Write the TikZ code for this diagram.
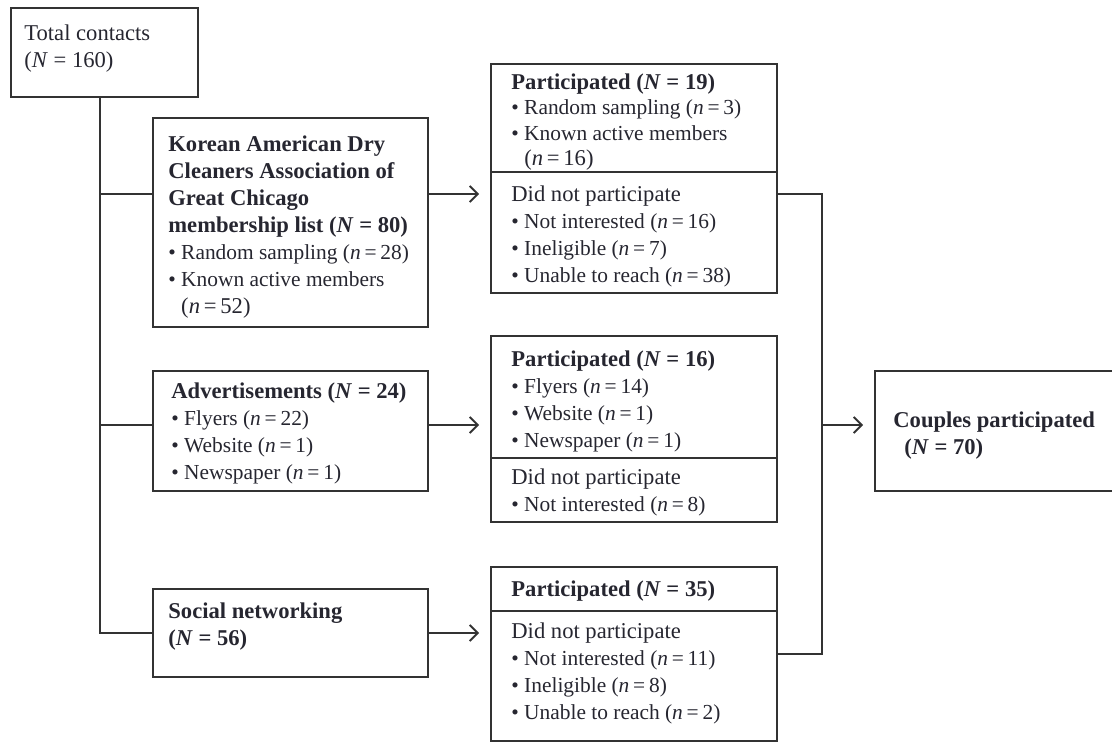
\documentclass[tikz,border=0pt]{standalone}
\usepackage{fontspec}
\setmainfont{Liberation Serif}
\usetikzlibrary{arrows.meta,positioning,calc}
\definecolor{ink}{HTML}{262630}
\definecolor{rule}{HTML}{333333}
\newcommand{\itm}[1]{{\fontsize{10.7}{13.5}\selectfont\textbullet\ #1}}
\newcommand{\cnt}[2]{(\textit{#1}\kern1.9pt=\kern1.9pt#2)}
\newcommand{\Cnt}[2]{(\textit{#1} = #2)}

\begin{document}
\begin{tikzpicture}[x=0.5pt,y=-0.5pt,
  every node/.style={font=\fontsize{11.3}{13.5}\selectfont, text=ink},
  box/.style={draw=rule, line width=0.9pt, rectangle, inner sep=0pt, outer sep=0pt, anchor=north west},
  txt/.style={anchor=north west, align=left, inner sep=0pt},
  link/.style={draw=rule, line width=0.9pt},
  arr/.style={link, -{Straight Barb[length=4pt,width=8pt]}, shorten >=6pt}
]
  \useasboundingbox (0,0) rectangle (1112,743);

  % source boxes
  \node[box, minimum width=93.5pt, minimum height=44.5pt] (total) at (11,8) {};
  \node[box, minimum width=137.5pt, minimum height=104.5pt] (kadca) at (153,118) {};
  \node[box, minimum width=137.5pt, minimum height=60pt] (adv) at (153,371) {};
  \node[box, minimum width=137.5pt, minimum height=44pt] (social) at (153,589) {};

  % outcome boxes, each in two parts
  \node[box, minimum width=143pt, minimum height=54pt] (p1top) at (491,64) {};
  \node[box, minimum width=143pt, minimum height=60.5pt, below=0pt of p1top] (p1bot) {};
  \node[box, minimum width=143pt, minimum height=61pt] (p2top) at (491,336) {};
  \node[box, minimum width=143pt, minimum height=32pt, below=0pt of p2top] (p2bot) {};
  \node[box, minimum width=143pt, minimum height=22pt] (p3top) at (491,567) {};
  \node[box, minimum width=143pt, minimum height=65pt, below=0pt of p3top] (p3bot) {};

  \node[box, minimum width=127.5pt, minimum height=60pt] (couples) at (875,371) {};

  % texts
  \node[txt] (totaltxt) at ($(total.north west)+(13,16)$)
    {Total contacts\\\Cnt{N}{160}};
  \node[txt] (kadcatxt) at ($(kadca.north west)+(15,17)$)
    {\textbf{Korean American Dry}\\
     \textbf{Cleaners Association of}\\
     \textbf{Great Chicago}\\
     \textbf{membership list \Cnt{N}{80}}\\
     \itm{Random sampling \cnt{n}{28}}\\
     \itm{Known active members}\\
     \phantom{\itm{}}\cnt{n}{52}};
  \node[txt] (advtxt) at ($(adv.north west)+(18,11)$)
    {\textbf{Advertisements \Cnt{N}{24}}\\
     \itm{Flyers \cnt{n}{22}}\\
     \itm{Website \cnt{n}{1}}\\
     \itm{Newspaper \cnt{n}{1}}};
  \node[txt] (socialtxt) at ($(social.north west)+(15,13)$)
    {\textbf{Social networking}\\\textbf{\Cnt{N}{56}}};

  \node[txt, font=\fontsize{11.3}{12.8}\selectfont] (p1toptxt) at ($(p1top.north west)+(20,9)$)
    {\textbf{Participated \Cnt{N}{19}}\\
     \itm{Random sampling \cnt{n}{3}}\\
     \itm{Known active members}\\
     \phantom{\itm{}}\cnt{n}{16}};
  \node[txt] (p1bottxt) at ($(p1bot.north west)+(20,13)$)
    {Did not participate\\
     \itm{Not interested \cnt{n}{16}}\\
     \itm{Ineligible \cnt{n}{7}}\\
     \itm{Unable to reach \cnt{n}{38}}};
  \node[txt] (p2toptxt) at ($(p2top.north west)+(20,14)$)
    {\textbf{Participated \Cnt{N}{16}}\\
     \itm{Flyers \cnt{n}{14}}\\
     \itm{Website \cnt{n}{1}}\\
     \itm{Newspaper \cnt{n}{1}}};
  \node[txt] (p2bottxt) at ($(p2bot.north west)+(20,10)$)
    {Did not participate\\
     \itm{Not interested \cnt{n}{8}}};
  \node[txt] (p3toptxt) at ($(p3top.north west)+(20,13)$)
    {\textbf{Participated \Cnt{N}{35}}};
  \node[txt] (p3bottxt) at ($(p3bot.north west)+(20,11)$)
    {Did not participate\\
     \itm{Not interested \cnt{n}{11}}\\
     \itm{Ineligible \cnt{n}{8}}\\
     \itm{Unable to reach \cnt{n}{2}}};
  \node[txt] (couplestxt) at ($(couples.north west)+(18,40)$)
    {\textbf{Couples participated}\\\hspace*{5.5pt}\textbf{\Cnt{N}{70}}};

  % connector rails
  \coordinate (trunk) at (100,0);
  \coordinate (bus) at (822,0);
  \coordinate (r1) at (0,194);
  \coordinate (r2) at (0,425);
  \coordinate (r3) at (0,633);
  \coordinate (r4) at (0,654);

  \draw[link] (total.south -| trunk) -- (trunk |- r3) -- (social.west |- r3);
  \draw[link] (trunk |- r1) -- (kadca.west |- r1);
  \draw[link] (trunk |- r2) -- (adv.west |- r2);

  \draw[arr] (kadca.east |- r1) -- (p1bot.west |- r1);
  \draw[arr] (adv.east |- r2) -- (p2top.west |- r2);
  \draw[arr] (social.east |- r3) -- (p3bot.west |- r3);

  \draw[link] (p1bot.east |- r1) -| (bus |- r4) -- (p3bot.east |- r4);
  \draw[arr] (bus |- r2) -- (couples.west |- r2);
\end{tikzpicture}
\end{document}
